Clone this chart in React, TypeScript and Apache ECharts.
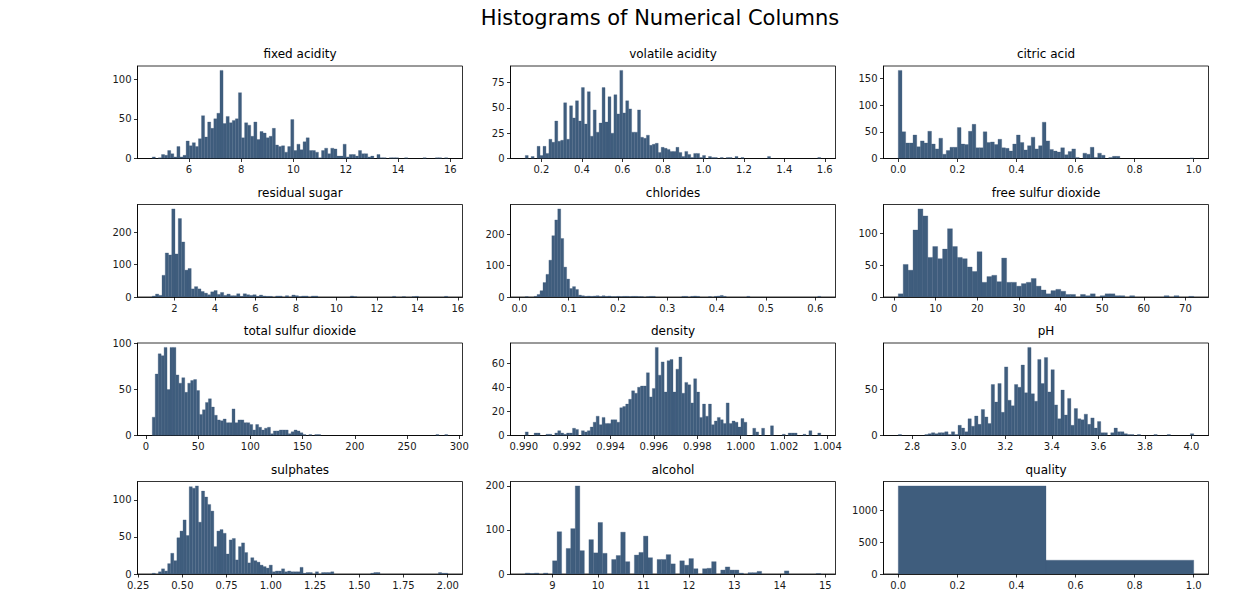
import React, { useEffect, useRef } from "react";
import * as echarts from "echarts";

const BAR_COLOR = "#3F5D7D";
const FONT = '"DejaVu Sans", "Liberation Sans", sans-serif';

// Bin counts for each column: uniform bins spanning [min, max] of the column
const fixedAcidityCounts = [
  2, 0, 1, 5, 4, 10, 6, 2, 15, 2,
  4, 22, 16, 20, 15, 25, 54, 27, 46, 38,
  50, 57, 111, 44, 53, 45, 48, 50, 83, 26,
  45, 42, 28, 46, 24, 34, 32, 26, 28, 38,
  17, 15, 16, 8, 15, 49, 10, 18, 11, 21,
  26, 10, 10, 8, 1, 10, 13, 6, 13, 12,
  3, 3, 18, 2, 5, 5, 3, 10, 6, 6,
  2, 3, 0, 5, 1, 1, 0, 1, 1, 1,
  0, 0, 1, 0, 0, 0, 0, 0, 1, 0,
  0, 0, 1, 1, 0, 1,
];
const volatileAcidityCounts = [
  3, 0, 2, 0, 12, 3, 12, 5, 19, 16,
  37, 17, 18, 55, 19, 52, 40, 57, 37, 70,
  34, 66, 22, 48, 26, 35, 70, 36, 61, 25,
  63, 44, 87, 45, 57, 49, 26, 26, 48, 21,
  20, 23, 13, 14, 15, 6, 11, 10, 9, 7,
  7, 11, 6, 2, 7, 4, 1, 5, 5, 1,
  3, 0, 2, 1, 1, 0, 1, 0, 1, 1,
  0, 2, 0, 1, 0, 0, 0, 0, 0, 0,
  0, 0, 2, 0, 0, 0, 0, 0, 0, 0,
  0, 0, 0, 0, 0, 0, 0, 0, 0, 1,
];
const citricAcidCounts = [
  165, 50, 29, 29, 44, 22, 33, 29, 51, 27,
  18, 38, 8, 15, 21, 21, 58, 27, 26, 51,
  64, 20, 20, 50, 30, 31, 26, 36, 20, 19,
  14, 27, 44, 30, 16, 24, 40, 18, 24, 68,
  33, 17, 14, 12, 20, 7, 13, 18, 2, 0,
  10, 8, 21, 2, 10, 6, 0, 2, 4, 4,
  0, 0, 0, 0, 0, 0, 0, 0, 0, 0,
  0, 0, 0, 0, 0, 0, 0, 0, 0, 1,
];
const residualSugarCounts = [
  3, 9, 5, 67, 136, 130, 272, 133, 242, 170,
  83, 88, 25, 32, 25, 17, 12, 7, 16, 20,
  8, 14, 5, 9, 4, 4, 10, 2, 10, 7,
  5, 7, 2, 6, 3, 2, 2, 0, 3, 3,
  0, 4, 0, 6, 4, 1, 3, 3, 0, 3,
  3, 0, 0, 0, 0, 0, 0, 0, 0, 0,
  0, 3, 1, 0, 0, 0, 0, 0, 0, 0,
  0, 0, 0, 0, 2, 0, 0, 1, 0, 0,
  1, 2, 0, 0, 0, 0, 0, 0, 0, 0,
  2,
];
const chloridesCounts = [
  1, 0, 0, 2, 8, 20, 46, 72, 117, 195,
  245, 280, 186, 95, 57, 27, 33, 24, 6, 4,
  2, 3, 2, 3, 4, 1, 4, 2, 3, 1,
  1, 2, 1, 2, 2, 1, 2, 2, 1, 1,
  0, 1, 2, 2, 0, 0, 0, 0, 0, 0,
  0, 0, 0, 2, 2, 0, 2, 3, 2, 0,
  0, 0, 1, 0, 2, 3, 5, 2, 0, 0,
  0, 0, 0, 0, 0, 2, 0, 0, 0, 0,
  0, 0, 0, 0, 0, 0, 0, 0, 0, 0,
  0, 0, 0, 0, 0, 0, 0, 0, 0, 2,
];
const freeSulfurCounts = [
  5, 51, 42, 105, 138, 127, 62, 79, 60, 75,
  107, 79, 62, 60, 47, 40, 71, 23, 32, 34,
  24, 61, 23, 23, 17, 21, 23, 29, 17, 11,
  5, 10, 12, 9, 4, 4, 0, 4, 2, 5,
  0, 2, 5, 5, 2, 2, 0, 2, 0, 0,
  0, 0, 0, 0, 2, 0, 2, 0, 0, 1,
];
const totalSulfurCounts = [
  20, 67, 89, 87, 96, 50, 96, 96, 66, 57,
  63, 47, 57, 60, 61, 49, 23, 28, 36, 40,
  31, 22, 17, 16, 18, 14, 14, 29, 14, 17,
  17, 14, 14, 12, 6, 12, 9, 6, 8, 9,
  2, 5, 5, 6, 6, 6, 2, 4, 6, 5,
  3, 1, 0, 1, 0, 1, 1, 0, 0, 0,
  0, 0, 0, 0, 0, 0, 0, 0, 0, 0,
  0, 0, 0, 0, 0, 0, 0, 0, 0, 0,
  0, 0, 0, 0, 0, 0, 0, 0, 0, 0,
  0, 0, 0, 0, 0, 0, 1, 0, 0, 1,
];
const densityCounts = [
  3, 0, 0, 2, 2, 0, 0, 1, 1, 0,
  2, 4, 2, 1, 2, 2, 6, 5, 0, 4,
  3, 4, 7, 11, 16, 9, 15, 10, 10, 13,
  13, 11, 23, 24, 26, 30, 37, 35, 40, 41,
  41, 52, 32, 39, 73, 50, 61, 36, 62, 63,
  36, 55, 65, 35, 44, 42, 27, 47, 36, 15,
  26, 16, 26, 9, 12, 15, 13, 10, 27, 10,
  12, 11, 7, 14, 11, 0, 0, 6, 3, 0,
  6, 0, 0, 8, 0, 0, 0, 1, 0, 2,
  2, 2, 0, 0, 1, 0, 4, 0, 0, 2,
];
const phCounts = [
  1, 0, 0, 0, 0, 0, 0, 0, 1, 2,
  3, 2, 3, 3, 4, 1, 4, 1, 11, 8,
  4, 18, 10, 21, 12, 28, 20, 13, 55, 36,
  56, 25, 74, 38, 32, 55, 52, 76, 46, 95,
  45, 37, 82, 56, 84, 47, 71, 33, 18, 49,
  22, 40, 11, 29, 18, 17, 23, 12, 19, 8,
  15, 3, 3, 0, 3, 8, 4, 4, 2, 1,
  1, 0, 1, 0, 0, 0, 0, 1, 0, 0,
  0, 1, 0, 0, 0, 0, 0, 0, 2,
];
const sulphatesCounts = [
  1, 0, 3, 7, 4, 14, 28, 18, 49, 58,
  73, 52, 118, 116, 119, 70, 112, 104, 94, 85,
  37, 58, 60, 55, 27, 46, 48, 19, 37, 42,
  29, 15, 22, 18, 16, 12, 10, 8, 12, 3,
  4, 4, 7, 3, 4, 3, 3, 3, 9, 1,
  2, 2, 0, 3, 0, 2, 2, 2, 3, 0,
  0, 0, 0, 0, 0, 0, 0, 0, 0, 0,
  0, 1, 2, 2, 0, 0, 0, 0, 0, 0,
  0, 0, 0, 0, 0, 0, 0, 0, 0, 0,
  0, 0, 0, 2, 1, 1,
];
const alcoholCounts = [
  2, 1, 2, 0, 2, 0, 30, 96, 0, 58,
  103, 200, 53, 0, 78, 48, 117, 47, 0, 33,
  42, 95, 28, 0, 43, 49, 86, 37, 0, 33,
  33, 44, 23, 0, 30, 20, 35, 12, 0, 12,
  13, 28, 0, 9, 16, 9, 9, 2, 0, 3,
  3, 6, 0, 0, 0, 0, 0, 7, 0, 0,
  0, 0, 0, 0, 1,
];
const qualityCounts = [1382, 217];

// Column ranges (min, max)
const fixedAcidityRange = [4.6, 15.9];
const volatileAcidityRange = [0.12, 1.58];
const citricAcidRange = [0, 1];
const residualSugarRange = [0.9, 15.5];
const chloridesRange = [0.012, 0.611];
const freeSulfurRange = [1, 72];
const totalSulfurRange = [6, 289];
const densityRange = [0.99007, 1.00369];
const phRange = [2.74, 4.01];
const sulphatesRange = [0.33, 2.0];
const alcoholRange = [8.4, 14.9];
const qualityRange = [0, 1];

// Tick labels
const fixedAcidityTicks = [6, 8, 10, 12, 14, 16];
const volatileAcidityTicks = [0.2, 0.4, 0.6, 0.8, 1.0, 1.2, 1.4, 1.6];
const citricAcidTicks = [0, 0.2, 0.4, 0.6, 0.8, 1.0];
const residualSugarTicks = [2, 4, 6, 8, 10, 12, 14, 16];
const chloridesTicks = [0, 0.1, 0.2, 0.3, 0.4, 0.5, 0.6];
const freeSulfurTicks = [0, 10, 20, 30, 40, 50, 60, 70];
const totalSulfurTicks = [0, 50, 100, 150, 200, 250, 300];
const densityTicks = [0.99, 0.992, 0.994, 0.996, 0.998, 1.0, 1.002, 1.004];
const phTicks = [2.8, 3.0, 3.2, 3.4, 3.6, 3.8, 4.0];
const sulphatesTicks = [0.25, 0.5, 0.75, 1.0, 1.25, 1.5, 1.75, 2.0];
const alcoholTicks = [9, 10, 11, 12, 13, 14, 15];
const qualityTicks = [0, 0.2, 0.4, 0.6, 0.8, 1.0];

const countTicks50 = [0, 50, 100];
const countTicks25 = [0, 25, 50, 75];
const countTicks150 = [0, 50, 100, 150];
const countTicks200 = [0, 100, 200];
const countTicks20 = [0, 20, 40, 60];
const countTicks1000 = [0, 500, 1000];

const panels = [
  { title: "fixed acidity", counts: fixedAcidityCounts, range: fixedAcidityRange, xTicks: fixedAcidityTicks, dec: 0, yTicks: countTicks50 },
  { title: "volatile acidity", counts: volatileAcidityCounts, range: volatileAcidityRange, xTicks: volatileAcidityTicks, dec: 1, yTicks: countTicks25 },
  { title: "citric acid", counts: citricAcidCounts, range: citricAcidRange, xTicks: citricAcidTicks, dec: 1, yTicks: countTicks150 },
  { title: "residual sugar", counts: residualSugarCounts, range: residualSugarRange, xTicks: residualSugarTicks, dec: 0, yTicks: countTicks200 },
  { title: "chlorides", counts: chloridesCounts, range: chloridesRange, xTicks: chloridesTicks, dec: 1, yTicks: countTicks200 },
  { title: "free sulfur dioxide", counts: freeSulfurCounts, range: freeSulfurRange, xTicks: freeSulfurTicks, dec: 0, yTicks: countTicks50 },
  { title: "total sulfur dioxide", counts: totalSulfurCounts, range: totalSulfurRange, xTicks: totalSulfurTicks, dec: 0, yTicks: countTicks50 },
  { title: "density", counts: densityCounts, range: densityRange, xTicks: densityTicks, dec: 3, yTicks: countTicks20 },
  { title: "pH", counts: phCounts, range: phRange, xTicks: phTicks, dec: 1, yTicks: countTicks50 },
  { title: "sulphates", counts: sulphatesCounts, range: sulphatesRange, xTicks: sulphatesTicks, dec: 2, yTicks: countTicks50 },
  { title: "alcohol", counts: alcoholCounts, range: alcoholRange, xTicks: alcoholTicks, dec: 0, yTicks: countTicks200 },
  { title: "quality", counts: qualityCounts, range: qualityRange, xTicks: qualityTicks, dec: 1, yTicks: countTicks1000 },
];

// Subplot grid geometry (pixels)
const COL_LEFT = [137.5, 510.5, 883.5];
const ROW_TOP = [66, 204.5, 343, 481.5];
const PANEL_W = 325;
const PANEL_H = 92.5;

const TEXT_COLOR = "#1a1a1a";
const SPINE = { color: "#000", width: 0.8 };

function buildOption() {
  const grid: any[] = [];
  const xAxis: any[] = [];
  const yAxis: any[] = [];
  const series: any[] = [];
  const graphic: any[] = [];

  graphic.push({
    type: "text",
    x: 660,
    y: 18,
    silent: true,
    style: {
      text: "Histograms of Numerical Columns",
      font: `21px ${FONT}`,
      fill: "#000",
      align: "center",
      verticalAlign: "middle",
    },
  });

  panels.forEach((p, i) => {
    const col = i % 3;
    const row = Math.floor(i / 3);
    const [lo, hi] = p.range;
    const n = p.counts.length;
    const w = (hi - lo) / n;
    const pad = (hi - lo) * 0.05;
    const ymax = Math.max(...p.counts) * 1.05;

    grid.push({
      left: COL_LEFT[col],
      top: ROW_TOP[row],
      width: PANEL_W,
      height: PANEL_H,
      show: true,
      borderColor: SPINE.color,
      borderWidth: SPINE.width,
      backgroundColor: "transparent",
      containLabel: false,
    });

    xAxis.push({
      type: "value",
      gridIndex: i,
      min: lo - pad,
      max: hi + pad,
      axisLine: { show: true, onZero: false, lineStyle: SPINE },
      axisTick: { show: true, length: 3.5, lineStyle: SPINE, customValues: p.xTicks },
      axisLabel: {
        customValues: p.xTicks,
        formatter: (v: number) => v.toFixed(p.dec),
        fontFamily: FONT,
        fontSize: 10,
        color: TEXT_COLOR,
        margin: 6,
      },
      splitLine: { show: false },
    });

    yAxis.push({
      type: "value",
      gridIndex: i,
      min: 0,
      max: ymax,
      axisLine: { show: true, onZero: false, lineStyle: SPINE },
      axisTick: { show: true, length: 3.5, lineStyle: SPINE, customValues: p.yTicks },
      axisLabel: {
        customValues: p.yTicks,
        formatter: (v: number) => String(Math.round(v)),
        fontFamily: FONT,
        fontSize: 10,
        color: TEXT_COLOR,
        margin: 6,
      },
      splitLine: { show: false },
    });

    const bins: number[][] = [];
    p.counts.forEach((c, k) => {
      if (c > 0) bins.push([lo + k * w, lo + (k + 1) * w, c]);
    });

    series.push({
      type: "custom",
      xAxisIndex: i,
      yAxisIndex: i,
      clip: true,
      encode: { x: [0, 1], y: 2 },
      data: bins,
      renderItem: (_params: any, api: any) => {
        const a = api.coord([api.value(0), api.value(2)]);
        const b = api.coord([api.value(1), 0]);
        return {
          type: "rect",
          shape: { x: a[0], y: a[1], width: b[0] - a[0], height: b[1] - a[1] },
          style: { fill: BAR_COLOR, stroke: BAR_COLOR, lineWidth: 0.3 },
        };
      },
    });

    graphic.push({
      type: "text",
      x: COL_LEFT[col] + PANEL_W / 2,
      y: ROW_TOP[row] - 12,
      silent: true,
      style: {
        text: p.title,
        font: `12px ${FONT}`,
        fill: "#000",
        align: "center",
        verticalAlign: "middle",
      },
    });
  });

  return {
    animation: false,
    backgroundColor: "#fff",
    textStyle: { fontFamily: FONT },
    grid,
    xAxis,
    yAxis,
    series,
    graphic,
  };
}

export default function App() {
  const ref = useRef<HTMLDivElement>(null);

  useEffect(() => {
    if (!ref.current) return;
    const chart = echarts.init(ref.current, undefined, { renderer: "svg" });
    chart.setOption(buildOption() as any);
    return () => chart.dispose();
  }, []);

  return (
    <div
      ref={ref}
      style={{ position: "absolute", left: 0, top: 0, width: 1245, height: 608, background: "#fff" }}
    />
  );
}
